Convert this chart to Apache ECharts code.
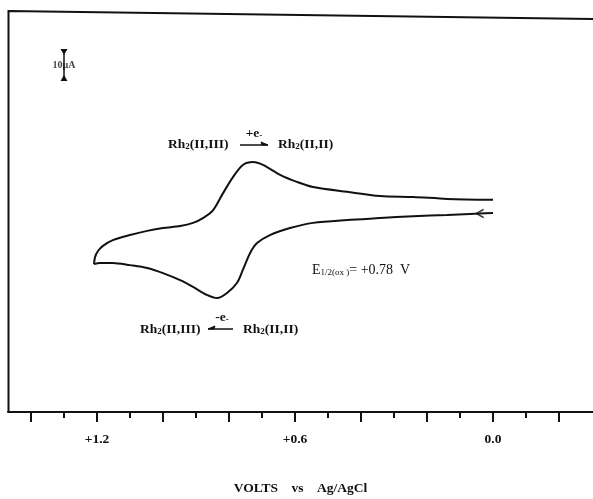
<!DOCTYPE html>
<html>
<head>
<meta charset="utf-8">
<script src="https://cdn.jsdelivr.net/npm/echarts@6/dist/echarts.min.js"></script>
<style>html,body{margin:0;padding:0;background:#fff}#c{width:593px;height:499px}</style>
</head>
<body>
<div id="c"></div>
<script>
// Potential (V vs Ag/AgCl) and current (µA, cathodic up)
// Forward (anodic) scan: 0.0 V -> +1.21 V  (lower branch)
const fwdV = [0.000, 0.042, 0.070, 0.139, 0.242, 0.342, 0.442, 0.545, 0.615, 0.676, 0.715, 0.736, 0.758, 0.776, 0.806, 0.836, 0.867, 0.909, 0.948, 1.000, 1.048, 1.100, 1.152, 1.191, 1.209];
const fwdI = [2.2, 2.0, 1.9, 1.6, 1.2, 0.6, 0.0, -0.9, -2.5, -4.7, -7.2, -10.3, -15.6, -19.7, -22.8, -24.4, -23.4, -20.9, -18.8, -16.6, -15.0, -14.1, -13.4, -13.4, -13.8];
// Reverse (cathodic) scan: +1.21 V -> 0.0 V (upper branch)
const revV = [1.209, 1.206, 1.197, 1.182, 1.152, 1.100, 1.048, 1.000, 0.948, 0.909, 0.879, 0.848, 0.818, 0.788, 0.758, 0.727, 0.697, 0.645, 0.594, 0.545, 0.442, 0.342, 0.242, 0.139, 0.000];
const revI = [-13.8, -11.6, -9.7, -8.1, -6.3, -4.7, -3.4, -2.5, -1.9, -0.9, 0.6, 3.1, 8.4, 13.4, 17.2, 18.1, 17.2, 14.1, 11.9, 10.3, 8.8, 7.5, 7.2, 6.6, 6.3];
// Axis tick labels
const tickValues = [1.2, 0.6, 0.0];
const tickLabels = ['+1.2', '+0.6', '0.0'];
// Current scale bar (10 µA)
const barV = 1.30;
const barI = [43.4, 53.4];
const barLabel = '10µA';

const fwd = fwdV.map((v, i) => [v, fwdI[i]]);
const rev = revV.map((v, i) => [v, revI[i]]);

const serif = '"Liberation Serif","DejaVu Serif",serif';
const chart = echarts.init(document.getElementById('c'));

const rhRich = {
  a: {fontFamily: serif, fontWeight: 'bold', fontSize: 13.5, fill: '#111', color: '#111', verticalAlign: 'bottom', lineHeight: 17},
  s: {fontFamily: serif, fontWeight: 'bold', fontSize: 9, fill: '#111', color: '#111', verticalAlign: 'bottom', lineHeight: 13}
};
function txt(x, y, text, rich, align) {
  return {type: 'text', x: x, y: y, style: {text: text, rich: rich, align: align || 'left', verticalAlign: 'middle', fill: '#111'}};
}
function arrow(x1, x2, y) {
  const dir = x2 > x1 ? 1 : -1;
  return {type: 'group', children: [
    {type: 'line', shape: {x1: x1, y1: y, x2: x2, y2: y}, style: {stroke: '#111', lineWidth: 1.5}},
    {type: 'polygon', shape: {points: [[x2, y], [x2 - dir * 7, y - 3], [x2 - dir * 6, y]]}, style: {fill: '#111', stroke: '#111', lineWidth: 1}}
  ]};
}
const tickFmt = function (v) {
  for (let i = 0; i < tickValues.length; i++) if (Math.abs(v - tickValues[i]) < 1e-6) return tickLabels[i];
  return '';
};

chart.setOption({
  animation: false,
  backgroundColor: '#fff',
  grid: [
    {left: 8, right: 0, top: 14, bottom: 87, outerBoundsMode: 'none', containLabel: false},   // data area (frame)
    {left: 31, right: 34, top: 14, bottom: 87, outerBoundsMode: 'none', containLabel: false}  // tick ruler +1.4 .. -0.2 V
  ],
  xAxis: [{
    gridIndex: 0, type: 'value', position: 'bottom', inverse: true, min: -0.30303, max: 1.469697,
    axisLine: {show: true, onZero: false, lineStyle: {color: '#111', width: 2}},
    axisTick: {show: false}, axisLabel: {show: false}, splitLine: {show: false},
    name: 'VOLTS    vs    Ag/AgCl', nameLocation: 'middle', nameGap: 70,
    nameTextStyle: {color: '#111', fontFamily: serif, fontWeight: 'bold', fontSize: 13.5}
  }, {
    gridIndex: 1, type: 'value', position: 'bottom', inverse: true, min: -0.2, max: 1.4, interval: 0.2,
    axisLine: {show: false, onZero: false},
    axisTick: {show: true, length: 10, lineStyle: {color: '#111', width: 2}},
    axisLabel: {show: true, margin: 21, color: '#111', fontFamily: serif, fontWeight: 'bold', fontSize: 13.5,
      formatter: tickFmt},
    splitLine: {show: false}
  }, {
    gridIndex: 1, type: 'value', position: 'bottom', inverse: true, min: -0.2, max: 1.4, interval: 0.1,
    axisLine: {show: false, onZero: false},
    axisTick: {show: true, length: 6, lineStyle: {color: '#111', width: 2}},
    axisLabel: {show: false}, splitLine: {show: false}
  }],
  yAxis: [
    {gridIndex: 0, type: 'value', min: -60, max: 64.375, show: false},
    {gridIndex: 1, type: 'value', min: -60, max: 64.375, show: false}
  ],
  series: [
    {type: 'line', xAxisIndex: 0, yAxisIndex: 0, data: fwd, smooth: 0.3, symbol: 'none', lineStyle: {color: '#111', width: 2}},
    {type: 'line', xAxisIndex: 0, yAxisIndex: 0, data: rev, smooth: 0.3, symbol: 'none', lineStyle: {color: '#111', width: 2}},
    {type: 'scatter', xAxisIndex: 0, yAxisIndex: 0, data: [fwd[1]], symbol: 'path://M10,0 L0,5 L10,10 L10,8 L3.4,5 L10,2 Z',
      symbolSize: [9, 10], itemStyle: {color: '#111'}},
    {type: 'line', xAxisIndex: 0, yAxisIndex: 0, data: [
        {value: [barV, barI[0]], symbol: 'triangle', symbolRotate: 0, symbolOffset: [0, -3]},
        {value: [barV, barI[1]], symbol: 'triangle', symbolRotate: 180, symbolOffset: [0, 3]}
      ], symbolSize: [7, 6], itemStyle: {color: '#111'}, lineStyle: {color: '#111', width: 1.5}},
    {type: 'scatter', xAxisIndex: 0, yAxisIndex: 0, data: [[barV, (barI[0] + barI[1]) / 2]], symbolSize: 0,
      label: {show: true, position: 'inside', formatter: barLabel, color: '#111', fontFamily: serif, fontWeight: 'bold', fontSize: 10}},
    {type: 'line', xAxisIndex: 1, yAxisIndex: 1, data: [], symbol: 'none'}
  ],
  graphic: [
    {type: 'polyline', shape: {points: [[8.5, 412], [8.5, 11], [593, 19]]}, style: {stroke: '#111', lineWidth: 2, fill: null}},
    txt(168, 143, '{a|Rh}{s|2}{a|(II,III)}', rhRich),
    arrow(240, 268, 145),
    txt(254, 132, '{a|+e}{s|-}', rhRich, 'center'),
    txt(278, 143, '{a|Rh}{s|2}{a|(II,II)}', rhRich),
    txt(140, 328, '{a|Rh}{s|2}{a|(II,III)}', rhRich),
    arrow(233, 208, 329),
    txt(222, 316, '{a|-e}{s|-}', rhRich, 'center'),
    txt(243, 328, '{a|Rh}{s|2}{a|(II,II)}', rhRich),
    txt(312, 268, '{e|E}{s|1/2(ox )}{e|= +0.78  V}', {
      e: {fontFamily: serif, fontSize: 14, fill: '#111', color: '#111', verticalAlign: 'bottom', lineHeight: 18},
      s: {fontFamily: serif, fontSize: 9, fill: '#111', color: '#111', verticalAlign: 'bottom', lineHeight: 12}
    })
  ]
});
</script>
</body>
</html>
